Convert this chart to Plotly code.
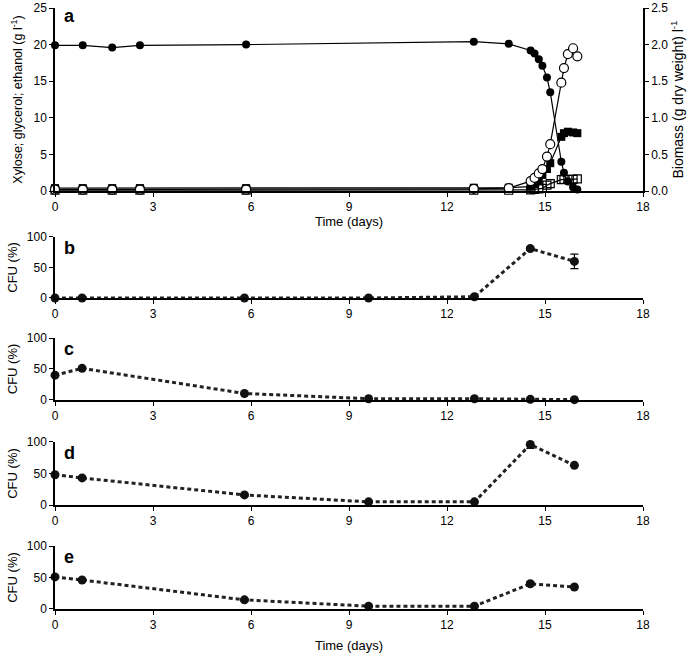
import plotly.graph_objects as go

# panel a: fermentation profile
t_a = [0, 0.85, 1.75, 2.6, 5.85, 12.82, 13.89,
       14.56, 14.68, 14.81, 14.92, 15.06, 15.16, 15.5, 15.58, 15.7, 15.86, 15.99]
xylose = [19.9, 19.9, 19.6, 19.9, 20.0, 20.4, 20.1,
          19.2, 18.8, 18.0, 17.1, 15.5, 13.5, 4.0, 2.5, 1.3, 0.5, 0.2]
ethanol = [0.4, 0.4, 0.4, 0.4, 0.4, 0.45, 0.45,
           0.6, 0.95, 1.5, 2.2, 3.0, 3.8, 7.4, 7.9, 8.1, 8.0, 7.9]
ethanol_err = [0.3, 0.3, 0.3, 0.3, 0.3, 0.3, 0.3,
               0, 0, 0, 0, 0, 0, 0, 0, 0, 0, 0]
glycerol = [0.1, 0.1, 0.1, 0.1, 0.1, 0.1, 0.1,
            0.15, 0.22, 0.28, 0.36, 0.8, 1.0, 1.55, 1.6, 1.6, 1.6, 1.65]
biomass = [0.02, 0.02, 0.02, 0.02, 0.02, 0.03, 0.04,
           0.135, 0.18, 0.24, 0.30, 0.47, 0.64, 1.48, 1.68, 1.87, 1.95, 1.84]

# panels b-e: CFU (%)
t_cfu = [0, 0.83, 5.8, 9.6, 12.84, 14.55, 15.9]
cfu_b = [0, 0, 0, 0, 2, 81, 60]
cfu_b_err = [0, 0, 0, 0, 0, 3, 12]
cfu_c = [40, 51, 10.5, 2, 2, 1, 0.5]
cfu_c_err = [0, 0, 0, 0, 0, 0, 0]
cfu_d = [48, 43, 16, 5, 5, 96, 63]
cfu_d_err = [0, 0, 2, 0, 0, 6, 0]
cfu_e = [51, 46, 14.5, 4.5, 4.5, 40, 35]
cfu_e_err = [0, 0, 2, 0, 0, 3, 0]

x_ticks = [0, 3, 6, 9, 12, 15, 18]
FONT = "Liberation Sans, Arial, sans-serif"

fig = go.Figure()

line_a = dict(color="black", width=1.2)
fig.add_trace(go.Scatter(x=t_a, y=glycerol, mode="lines+markers", line=line_a,
                         marker=dict(symbol="square-open", size=8, color="black", line=dict(width=1.2)),
                         xaxis="x", yaxis="y", cliponaxis=False, showlegend=False))
fig.add_trace(go.Scatter(x=t_a, y=ethanol, mode="lines+markers", line=line_a,
                         error_y=dict(type="data", array=ethanol_err, color="black", thickness=1, width=3),
                         marker=dict(symbol="square", size=8, color="black"),
                         xaxis="x", yaxis="y", cliponaxis=False, showlegend=False))
fig.add_trace(go.Scatter(x=t_a, y=xylose, mode="lines+markers", line=line_a,
                         marker=dict(symbol="circle", size=8, color="black"),
                         xaxis="x", yaxis="y", cliponaxis=False, showlegend=False))
fig.add_trace(go.Scatter(x=t_a, y=biomass, mode="lines+markers", line=line_a,
                         marker=dict(symbol="circle", size=9, color="white", line=dict(color="black", width=1.2)),
                         xaxis="x", yaxis="y2", cliponaxis=False, showlegend=False))

panels = [(cfu_b, cfu_b_err, "x2", "y3"), (cfu_c, cfu_c_err, "x3", "y4"),
          (cfu_d, cfu_d_err, "x4", "y5"), (cfu_e, cfu_e_err, "x5", "y6")]
for vals, err, xa, ya in panels:
    fig.add_trace(go.Scatter(x=t_cfu, y=vals, mode="lines+markers",
                             line=dict(color="#222", width=3, dash="4px,3px"),
                             marker=dict(symbol="circle", size=9, color="#111"),
                             error_y=dict(type="data", array=err, color="black", thickness=1.2, width=4),
                             xaxis=xa, yaxis=ya, cliponaxis=False, showlegend=False))

def xax(anchor, title=None, standoff=0):
    d = dict(range=[0, 18], tickvals=x_ticks, showline=True, linecolor="black", linewidth=1.5,
             ticks="outside", ticklen=4, tickcolor="black", showgrid=False, zeroline=False,
             tickfont=dict(size=12, color="black", family=FONT), anchor=anchor, automargin=False)
    if title:
        d["title"] = dict(text=title, font=dict(size=13, color="black", family=FONT), standoff=standoff)
    return d

def yax(dom, rng, tv, title, tsize=13, standoff=6):
    return dict(domain=dom, range=rng, tickvals=tv, showline=True, linecolor="black", linewidth=1.5,
                ticks="outside", ticklen=4, tickcolor="black", showgrid=False, zeroline=False,
                tickfont=dict(size=12, color="black", family=FONT), automargin=False,
                title=dict(text=title, font=dict(size=tsize, color="black", family=FONT), standoff=standoff))

dom_a = [0.6955, 1]
dom_b = [0.5175, 0.619]
dom_c = [0.3478, 0.4509]
dom_d = [0.173, 0.2779]
dom_e = [0, 0.1048]

fig.update_layout(
    width=697, height=655,
    margin=dict(l=55, r=54, t=8, b=46),
    plot_bgcolor="white", paper_bgcolor="white",
    font=dict(family=FONT, color="black"),
    xaxis=xax("y", "Time (days)", 0),
    xaxis2=xax("y3"),
    xaxis3=xax("y4"),
    xaxis4=xax("y5"),
    xaxis5=xax("y6", "Time (days)", 10),
    yaxis=yax(dom_a, [0, 25], [0, 5, 10, 15, 20, 25], "Xylose; glycerol; ethanol (g l<sup>-1</sup>)", 12.5, 8),
    yaxis3=yax(dom_b, [0, 100], [0, 50, 100], "CFU (%)"),
    yaxis4=yax(dom_c, [0, 100], [0, 50, 100], "CFU (%)"),
    yaxis5=yax(dom_d, [0, 100], [0, 50, 100], "CFU (%)"),
    yaxis6=yax(dom_e, [0, 100], [0, 50, 100], "CFU (%)"),
)
fig.update_layout(yaxis2=dict(overlaying="y", side="right", anchor="x", range=[0, 2.5],
                              tickvals=[0, 0.5, 1, 1.5, 2, 2.5],
                              ticktext=["0.0", "0.5", "1.0", "1.5", "2.0", "2.5"],
                              showline=True, linecolor="black", linewidth=1.5, automargin=False,
                              ticks="outside", ticklen=4, tickcolor="black", showgrid=False, zeroline=False,
                              tickfont=dict(size=12, color="black", family=FONT),
                              title=dict(text="Biomass (g dry weight) l<sup>-1</sup>",
                                         font=dict(size=14, color="black", family=FONT), standoff=6)))

# panel letters
for letter, ya in [("a", "y"), ("b", "y3"), ("c", "y4"), ("d", "y5"), ("e", "y6")]:
    fig.add_annotation(text="<b>" + letter + "</b>", x=0.2, y=1.02, xref="x", yref=ya + " domain",
                       xanchor="left", yanchor="top", showarrow=False,
                       font=dict(size=18, color="black", family=FONT))

# the page's default body margin would shift the figure by 8px
fig.write_html("out.html", config={"displayModeBar": False},
               post_script="document.body.style.margin='0';")
